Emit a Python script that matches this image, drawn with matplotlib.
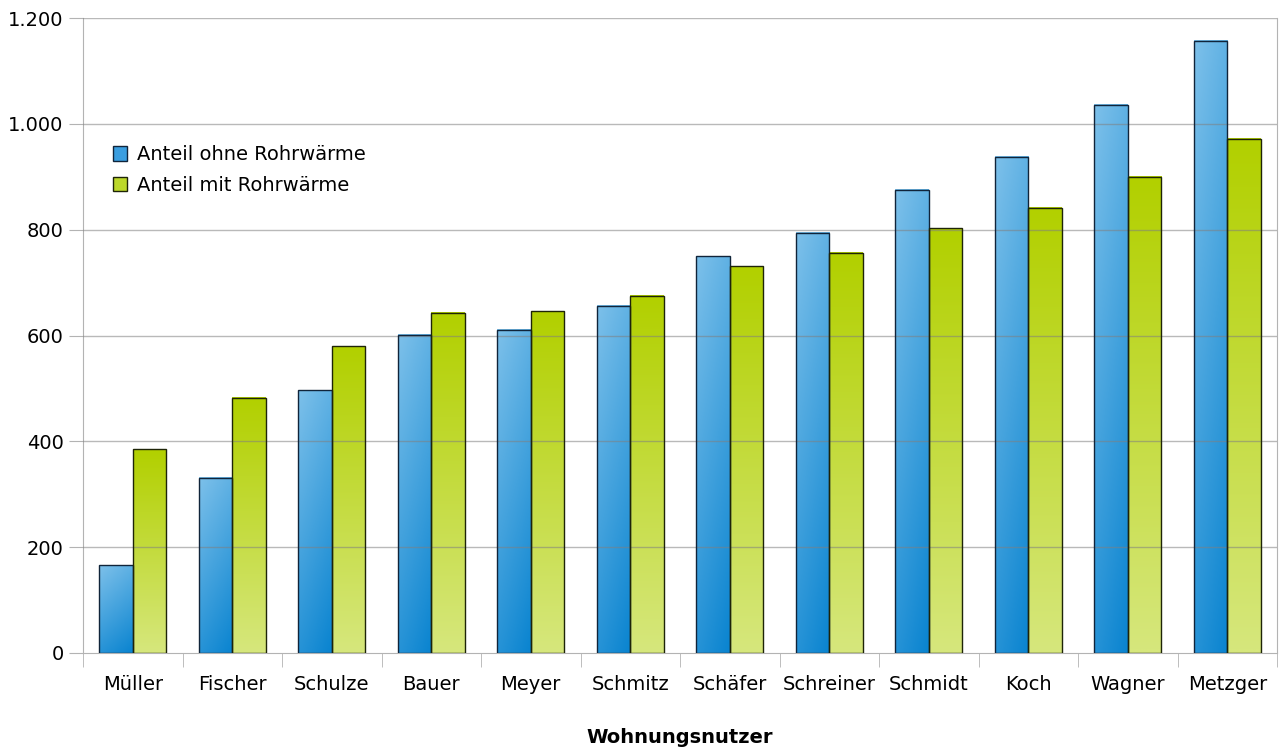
import numpy as np
import matplotlib
matplotlib.use("Agg")
from matplotlib import pyplot as plt
from matplotlib.colors import LinearSegmentedColormap
from matplotlib.patches import Rectangle, Patch
from matplotlib.ticker import FuncFormatter, FixedLocator

names = ['Müller', 'Fischer', 'Schulze', 'Bauer', 'Meyer', 'Schmitz', 'Schäfer',
         'Schreiner', 'Schmidt', 'Koch', 'Wagner', 'Metzger']
ohne = [166, 331, 497, 601, 611, 656, 750, 794, 875, 938, 1036, 1157]
mit = [385, 482, 580, 643, 646, 675, 731, 756, 803, 841, 900, 972]

blue_cm = LinearSegmentedColormap.from_list('b', ['#7cc0ea', '#0a84d0'])
green_cm = LinearSegmentedColormap.from_list('g', ['#b2d000', '#d6e77c'])

def grad_bar(ax, x0, w, h, cmap, diag, ec):
    # per-bar gradient, light/dark from top to bottom (slightly diagonal)
    rows, cols = 64, 16
    yy, xx = np.mgrid[0:rows, 0:cols]
    t = (yy / (rows - 1)) * (1 - diag) + (xx / (cols - 1)) * diag
    ax.imshow(t, cmap=cmap, extent=(x0, x0 + w, 0, h), aspect='auto',
              origin='upper', interpolation='bilinear', zorder=2, vmin=0, vmax=1)
    ax.add_patch(Rectangle((x0, 0), w, h, fill=False, ec=ec, lw=1, zorder=4))

fig = plt.figure(figsize=(12.82, 7.49), dpi=100)
ax = fig.add_axes([83 / 1282, 1 - 653 / 749, 1194 / 1282, 635 / 749])

bw = 0.335
x = np.arange(len(names))
for i in x:
    grad_bar(ax, i - bw, bw, ohne[i], blue_cm, 0.25, '#10243a')
    grad_bar(ax, i, bw, mit[i], green_cm, 0.0, '#1e2408')

ax.set_xlim(-0.5, len(names) - 0.5)
ax.set_ylim(0, 1200)

for v in range(200, 1201, 200):
    ax.axhline(v, color='#808080', alpha=0.55, lw=1, zorder=3)

for s in ax.spines.values():
    s.set_color('#b3b3b3')
ax.spines['top'].set_visible(False)

ax.set_yticks(range(0, 1201, 200))
ax.yaxis.set_major_formatter(FuncFormatter(lambda v, p: f'{int(v):,}'.replace(',', '.')))
ax.tick_params(axis='y', length=10, color='#b3b3b3', labelsize=14, pad=4)

ax.set_xticks(x)
ax.set_xticklabels(names)
ax.xaxis.set_minor_locator(FixedLocator(np.arange(-0.5, len(names), 1)))
ax.tick_params(axis='x', which='major', length=0, labelsize=14, pad=16)
ax.tick_params(axis='x', which='minor', length=10, color='#b3b3b3')

ax.set_xlabel('Wohnungsnutzer', fontsize=14, fontweight='bold', labelpad=24)

handles = [Patch(fc='#3a9ee0', ec='#10243a', lw=1, label='Anteil ohne Rohrwärme'),
           Patch(fc='#bcd82a', ec='#1e2408', lw=1, label='Anteil mit Rohrwärme')]
ax.legend(handles=handles, loc='upper left', bbox_to_anchor=(0.015, 0.818), frameon=False,
          fontsize=14, handlelength=0.75, handleheight=0.75, handletextpad=0.5,
          labelspacing=0.6, borderaxespad=0.2)

fig.savefig('out.png', dpi=100)
